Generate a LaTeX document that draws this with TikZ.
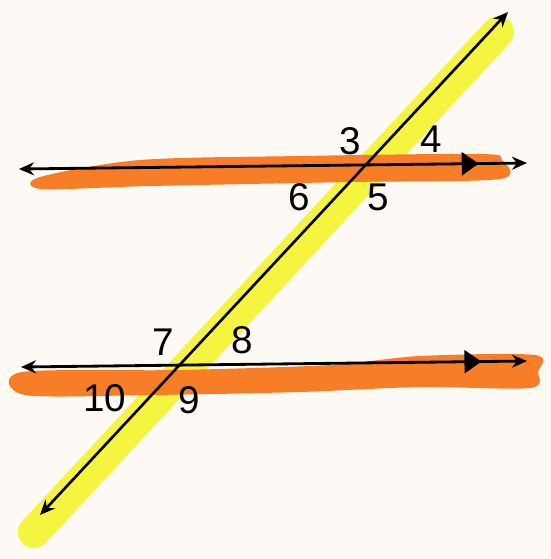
\documentclass[tikz,border=0pt]{standalone}
\usepackage{fontspec}
\setmainfont{Liberation Sans}
\usepackage{tikz}
\usetikzlibrary{arrows.meta, decorations.markings}
\definecolor{paper}{RGB}{253,250,246}
\definecolor{marker}{RGB}{247,125,38}
\definecolor{hiyellow}{RGB}{245,244,62}
\tikzset{
    band/.style={fill=marker},
    hilite/.style={draw=hiyellow, line width=0.64cm, line cap=round},
    tip/.style={Stealth[length=0.3cm,width=0.26cm]},
    parline/.style={line width=1.6pt, {Stealth[length=0.3cm,width=0.26cm]}-{Stealth[length=0.3cm,width=0.26cm]}},
    transline/.style={line width=1.5pt, {Stealth[length=0.3cm,width=0.26cm]}-{Stealth[length=0.3cm,width=0.26cm]}},
    parmark/.style={postaction={decorate}, decoration={markings, mark=at position #1 with {\arrow{Triangle[length=0.34cm,width=0.46cm]}}}},
    lbl/.style={inner sep=0pt, font=\fontsize{22}{26}\selectfont}
}
\begin{document}
\begin{tikzpicture}[x=0.02cm, y=-0.02cm]
    \fill[paper] (0,0) rectangle (551,559);
    \useasboundingbox (0,0) rectangle (551,559);

    % points of the three lines
    \coordinate (topL) at (19,169);
    \coordinate (topR) at (527,163);
    \coordinate (botL) at (21,367);
    \coordinate (botR) at (527,361);
    \coordinate (trA) at (40,515);
    \coordinate (trB) at (508,12);
    \coordinate (yelA) at (34,532);
    \coordinate (yelB) at (498,32);

    % highlighter strokes
    \draw[hilite] (yelA) -- (yelB);
    \fill[band] plot[smooth cycle] coordinates {(40,177) (140,160) (300,156) (480,154) (502,160) (500,179) (350,182) (150,186) (42,189)};
    \fill[band] plot[smooth cycle] coordinates {(22,372) (180,370) (330,365) (420,356) (535,355) (538,372) (530,388) (420,387) (300,392) (150,395) (25,395)};

    % the lines
    \draw[parline, parmark=0.905] (topL) -- (topR);
    \draw[parline, parmark=0.91] (botL) -- (botR);
    \draw[transline] (trA) -- (trB);

    % angle numbers
    \node[lbl] (n3) at (350,141) {3};
    \node[lbl] (n4) at (431,139) {4};
    \node[lbl] (n5) at (378,197) {5};
    \node[lbl] (n6) at (299,197) {6};
    \node[lbl] (n7) at (163,342) {7};
    \node[lbl] (n8) at (242,340) {8};
    \node[lbl] (n9) at (189,400) {9};
    \node[lbl] (n10) at (105,398) {10};
\end{tikzpicture}
\end{document}
